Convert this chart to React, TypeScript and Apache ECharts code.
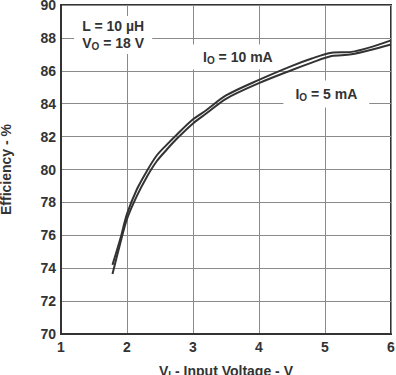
import React, { useEffect, useRef } from "react";
import * as echarts from "echarts";

const xTicks = [1, 2, 3, 4, 5, 6];
const yTicks = [70, 72, 74, 76, 78, 80, 82, 84, 86, 88, 90];

const vin = [1.78, 1.9, 2.0, 2.15, 2.3, 2.45, 2.6, 2.75, 3.0, 3.2, 3.5, 4.0, 4.5, 4.8, 5.1, 5.4, 6.0];
const eff10mA = [74.2, 75.8, 77.3, 78.8, 79.9, 80.85, 81.5, 82.1, 83.05, 83.6, 84.5, 85.45, 86.3, 86.75, 87.1, 87.15, 87.85];
const eff5mA = [73.65, 75.55, 77.0, 78.4, 79.55, 80.5, 81.2, 81.85, 82.8, 83.4, 84.3, 85.25, 86.05, 86.5, 86.9, 87.0, 87.6];

const FONT = "'Liberation Sans', Arial, Helvetica, sans-serif";
const TXT = "#333";

export default function App() {
  const ref = useRef<HTMLDivElement>(null);
  useEffect(() => {
    if (!ref.current) return;
    const chart = echarts.init(ref.current, undefined, { renderer: "svg" });
    const base = { fontFamily: FONT, fontWeight: "bold" as const, color: TXT };
    chart.setOption({
      animation: false,
      grid: {
        left: 61, right: 5, top: 5, bottom: 41, outerBoundsMode: "none",
        show: true, borderColor: "#333", borderWidth: 2, backgroundColor: "rgba(0,0,0,0)",
      },
      xAxis: {
        type: "value", min: 1, max: 6, interval: 1,
        axisLine: { show: true, onZero: false, lineStyle: { color: "#333", width: 2 } },
        axisTick: { show: true, length: 0 },
        splitLine: { show: true, lineStyle: { color: "#8a8a8a", width: 1 } },
        axisLabel: { ...base, fontSize: 14, margin: 6, formatter: (v: number) => (xTicks.includes(v) ? String(v) : "") },
        name: "{a|V}{s|I}{a| - Input Voltage - V}",
        nameLocation: "middle", nameGap: 28,
        nameTextStyle: {
          rich: {
            a: { ...base, fontSize: 14 },
            s: { ...base, fontSize: 10, padding: [8, 0, 0, 0] },
          },
        },
      },
      yAxis: {
        type: "value", min: 70, max: 90, interval: 2,
        axisLine: { show: true, onZero: false, lineStyle: { color: "#333", width: 2 } },
        axisTick: { show: true, length: 0 },
        splitLine: { show: true, lineStyle: { color: "#8a8a8a", width: 1 } },
        axisLabel: { ...base, fontSize: 14, margin: 5, formatter: (v: number) => (yTicks.includes(v) ? String(v) : "") },
        name: "Efficiency - %",
        nameLocation: "middle", nameGap: 48, nameRotate: 90,
        nameTextStyle: { ...base, fontSize: 14 },
      },
      series: [
        {
          name: "IO = 10 mA", type: "line", smooth: 0.3, symbol: "none",
          data: vin.map((x, i) => [x, eff10mA[i]]),
          lineStyle: { color: "#333", width: 2 }, z: 5,
        },
        {
          name: "IO = 5 mA", type: "line", smooth: 0.3, symbol: "none",
          data: vin.map((x, i) => [x, eff5mA[i]]),
          lineStyle: { color: "#333", width: 2 }, z: 5,
        },
      ],
    });

    const rich = {
      a: { fontFamily: FONT, fontWeight: "bold", fontSize: 14, fill: TXT, lineHeight: 17 },
      s: { fontFamily: FONT, fontWeight: "bold", fontSize: 10, fill: TXT, padding: [7, 0, 0, 0], lineHeight: 17 },
    };
    const at = (x: number, y: number) => chart.convertToPixel({ gridIndex: 0 }, [x, y]) as number[];
    const p1 = at(1.79, 88.18);
    const p2 = at(3.68, 86.84);
    const p3 = at(5.02, 84.59);
    const box = (p: number[], text: string, padding: number[]) => ({
      type: "text",
      x: p[0], y: p[1], z: 1,
      style: {
        text, rich, align: "center", verticalAlign: "middle",
        backgroundColor: "#fff", padding,
        fill: TXT, fontFamily: FONT, fontWeight: "bold", fontSize: 14,
      },
    });
    chart.setOption({
      graphic: [
        box(p1, "{a|L = 10 µH}\n{a|V}{s|O}{a| = 18 V}", [2, 8, 2, 8]),
        box(p2, "{a|I}{s|O}{a| = 10 mA}", [4, 12, 4, 12]),
        box(p3, "{a|I}{s|O}{a| = 5 mA}", [5, 12, 5, 12]),
      ],
    });
    return () => chart.dispose();
  }, []);
  return <div ref={ref} style={{ position: "fixed", left: 0, top: 0, width: 396, height: 375, background: "#fff" }} />;
}
